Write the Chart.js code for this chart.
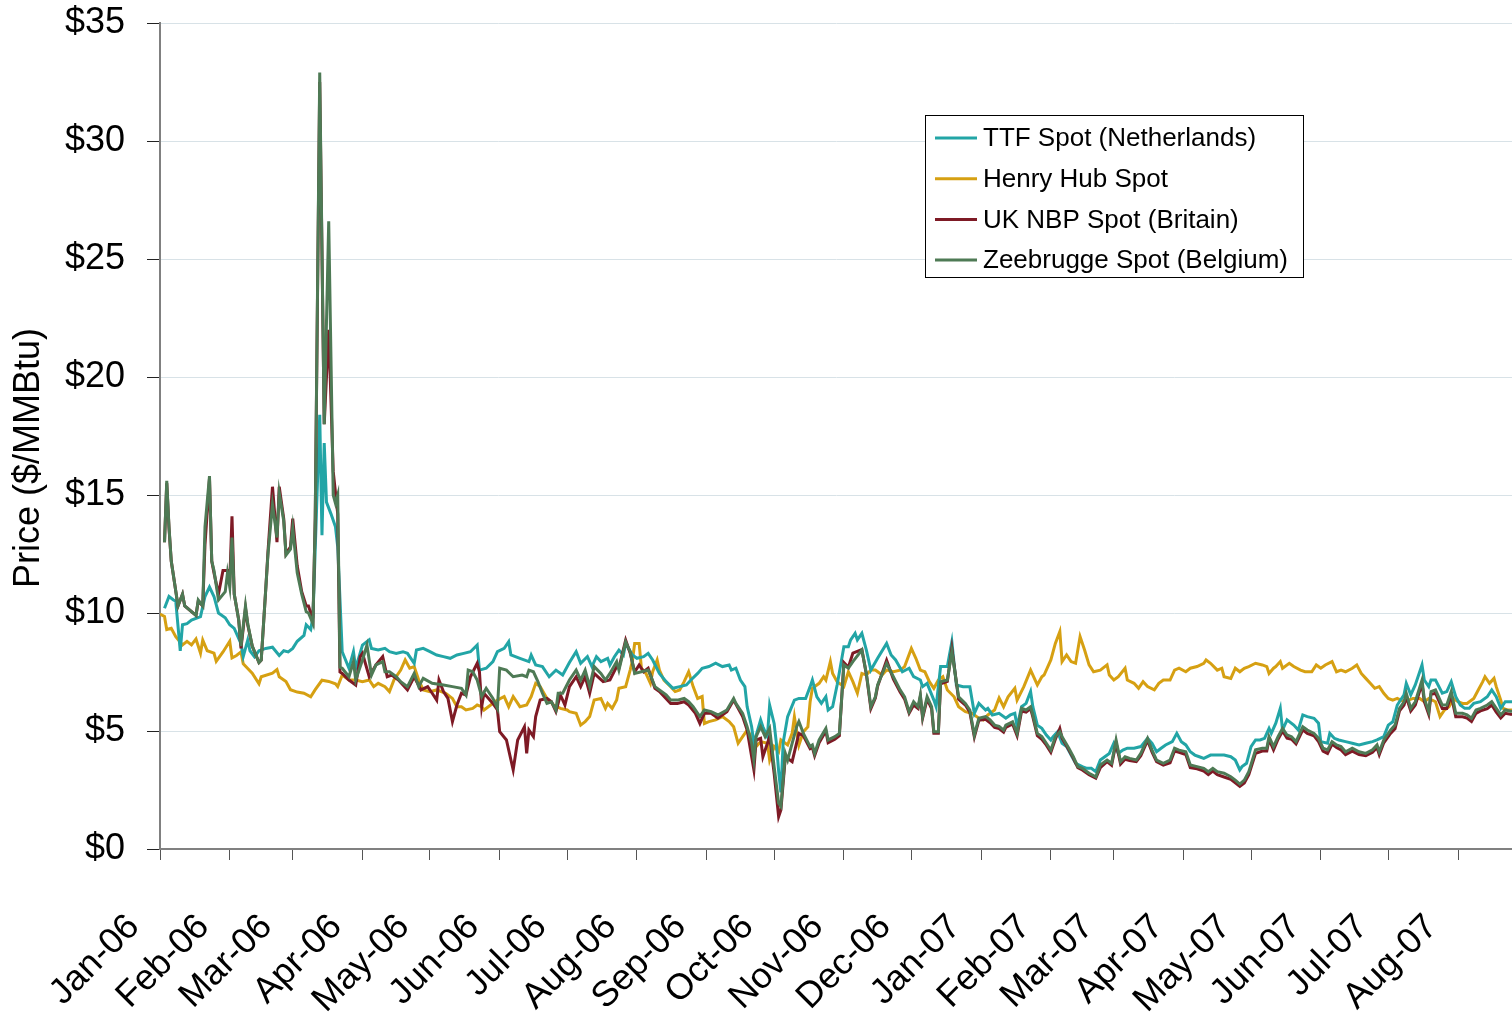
<!DOCTYPE html>
<html>
<head>
<meta charset="utf-8">
<script src="https://cdn.jsdelivr.net/npm/chart.js@4.4.1/dist/chart.umd.min.js"></script>
<style>
  html, body { margin: 0; padding: 0; background: #fff; }
  canvas { display: block; }
</style>
</head>
<body>
<canvas id="chart" width="1512" height="1012"></canvas>
<script>
const FONT = "'Liberation Sans', Arial, sans-serif";

// x values are days counted from 1 Jan 2006
const tickDays = [0, 31, 59, 90, 120, 151, 181, 212, 243, 273, 304, 334, 365, 396, 424, 455, 485, 516, 546, 577];
const tickLabels = ["Jan-06", "Feb-06", "Mar-06", "Apr-06", "May-06", "Jun-06", "Jul-06", "Aug-06", "Sep-06", "Oct-06",
  "Nov-06", "Dec-06", "Jan-07", "Feb-07", "Mar-07", "Apr-07", "May-07", "Jun-07", "Jul-07", "Aug-07"];

const seriesNames = ["TTF Spot (Netherlands)", "Henry Hub Spot", "UK NBP Spot (Britain)", "Zeebrugge Spot (Belgium)"];

// [day, $/MMBtu]
const ttfSpot = [
  [2,10.2],[4,10.7],[6,10.55],[7,10.5],[9,8.4],[10,9.5],[12,9.55],[14,9.7],[18,9.85],[20,10.7],[22,11.1],[24,10.7],
  [26,10.0],[29,9.8],[31,9.5],[33,9.35],[36,8.7],[37,8.15],[39,8.85],[40,8.4],[42,8.15],[44,8.4],[47,8.5],[50,8.55],
  [53,8.2],[55,8.4],[57,8.35],[59,8.5],[61,8.8],[64,9.05],[65,9.5],[67,9.3],[68,9.85],[71,18.4],[72,13.3],[73,17.2],
  [74,14.7],[76,14.2],[78,13.65],[79,12.8],[81,8.36],[84,7.66],[85,8.01],[86,8.36],[87,7.66],[90,8.64],[93,8.86],
  [94,8.5],[97,8.43],[100,8.5],[102,8.36],[105,8.29],[108,8.36],[110,8.29],[113,7.87],[114,8.43],[117,8.5],[120,8.36],
  [123,8.22],[126,8.15],[129,8.08],[132,8.22],[135,8.29],[138,8.36],[141,8.64],[142,7.58],[145,7.66],[148,7.94],
  [150,8.36],[153,8.5],[155,8.78],[156,8.22],[160,8.08],[164,7.94],[165,8.22],[167,7.8],[170,7.73],[173,7.3],
  [176,7.58],[179,7.37],[182,7.9],[185,8.36],[187,7.87],[190,8.15],[192,7.73],[194,8.15],[196,7.94],[199,8.08],
  [200,7.8],[202,8.15],[204,8.43],[206,8.22],[207,8.71],[210,8.22],[212,8.08],[215,8.15],[217,8.29],[219,8.01],
  [222,7.44],[225,7.09],[228,6.81],[231,6.88],[234,6.95],[236,7.16],[239,7.44],[241,7.66],[244,7.73],[247,7.87],
  [250,7.73],[253,7.8],[254,7.58],[256,7.66],[258,7.16],[260,6.88],[261,6.03],[263,5.18],[264,4.48],[267,5.47],
  [268,5.18],[270,4.76],[271,6.1],[273,5.32],[274,4.48],[275,3.3],[276,2.4],[277,4.5],[279,5.61],[282,6.31],
  [284,6.38],[287,6.38],[289,6.88],[290,7.16],[292,6.45],[294,6.17],[296,6.45],[297,5.89],[299,6.03],[301,6.95],
  [304,8.57],[306,8.57],[307,8.86],[309,9.14],[310,8.86],[312,9.14],[314,8.43],[316,7.58],[319,8.08],[323,8.71],
  [325,8.22],[327,8.01],[330,7.51],[333,7.66],[335,7.3],[338,7.16],[339,6.88],[341,7.02],[344,6.31],[345,6.03],
  [347,7.73],[350,7.73],[352,8.78],[354,6.95],[357,6.88],[360,6.88],[362,5.75],[364,6.17],[367,5.89],[368,5.96],
  [370,5.68],[373,5.75],[376,5.54],[378,5.68],[380,5.75],[381,5.18],[383,6.03],[385,6.17],[387,6.67],[388,6.03],
  [390,5.25],[392,5.11],[394,4.83],[396,4.62],[397,4.76],[399,4.97],[401,4.48],[403,4.34],[405,3.98],[407,3.63],
  [410,3.49],[412,3.42],[414,3.42],[416,3.28],[418,3.77],[420,3.91],[422,4.05],[424,4.48],[426,4.05],[428,4.19],
  [430,4.27],[433,4.27],[436,4.34],[439,4.69],[441,4.48],[443,4.12],[445,4.27],[447,4.41],[450,4.55],[452,4.9],
  [454,4.55],[456,4.41],[458,4.12],[460,3.98],[462,3.91],[464,3.84],[467,3.98],[470,3.98],[473,3.98],[476,3.91],
  [478,3.77],[480,3.35],[481,3.49],[483,3.63],[485,4.34],[487,4.62],[489,4.62],[491,4.69],[493,5.11],[494,4.9],
  [496,5.33],[498,5.96],[499,5.04],[501,5.47],[504,5.25],[506,5.04],[508,5.68],[510,5.61],[513,5.54],[515,5.33],
  [516,4.55],[519,4.48],[520,4.9],[522,4.69],[524,4.62],[527,4.55],[530,4.48],[533,4.41],[536,4.48],[539,4.55],
  [541,4.62],[544,4.76],[546,5.25],[548,5.39],[550,6.1],[553,6.53],[554,7.02],[556,6.53],[558,6.95],[561,7.8],
  [562,7.16],[564,6.88],[565,7.16],[567,7.16],[570,6.6],[572,6.67],[574,7.09],[576,6.45],[578,6.1],[580,5.96],
  [582,5.96],[584,6.17],[587,6.24],[590,6.45],[592,6.74],[594,6.45],[596,5.96],[598,6.24],[601,6.24]
];

const henryHubSpot = [
  [0,9.95],[2,9.85],[3,9.3],[5,9.35],[7,9.0],[10,8.65],[12,8.8],[14,8.65],[16,8.9],[18,8.3],[19,8.85],[21,8.4],
  [24,8.3],[25,7.95],[28,8.35],[31,8.8],[32,8.1],[34,8.2],[36,8.35],[37,7.85],[39,7.65],[41,7.45],[44,7.0],[45,7.3],
  [50,7.45],[52,7.6],[53,7.3],[56,7.1],[58,6.75],[61,6.65],[64,6.6],[67,6.45],[69,6.75],[72,7.15],[75,7.1],[78,7.0],
  [79,6.88],[81,7.37],[84,7.16],[87,7.16],[90,7.09],[93,7.16],[95,6.88],[97,7.02],[100,6.88],[102,6.67],[104,7.16],
  [107,7.58],[109,8.01],[111,7.66],[113,7.73],[115,7.16],[117,6.74],[120,6.67],[123,6.74],[127,6.6],[130,6.38],
  [132,6.03],[134,6.03],[136,5.89],[139,5.96],[141,6.1],[143,6.03],[144,5.89],[147,6.1],[150,6.31],[153,6.46],
  [155,6.03],[157,6.46],[160,6.03],[163,6.1],[165,6.46],[167,7.02],[169,6.88],[172,6.38],[175,6.1],[178,5.96],
  [181,5.89],[182,5.82],[185,5.75],[187,5.25],[189,5.4],[191,5.61],[193,6.31],[196,6.38],[198,5.96],[199,6.17],
  [201,5.96],[203,6.31],[204,6.81],[207,6.88],[209,7.58],[210,7.98],[211,8.71],[213,8.71],[214,7.66],[216,7.44],
  [218,7.02],[219,7.51],[221,8.01],[222,7.58],[224,7.16],[227,6.88],[229,6.67],[231,6.74],[233,7.09],[235,7.51],
  [237,6.88],[239,6.38],[241,6.46],[242,5.32],[244,5.4],[247,5.47],[250,5.61],[253,5.4],[255,5.18],[257,4.48],
  [259,4.76],[261,5.04],[263,4.76],[265,4.34],[267,4.55],[270,4.48],[271,3.77],[273,4.34],[275,4.12],[276,4.62],
  [279,4.41],[281,4.9],[282,5.6],[284,4.4],[286,4.97],[288,5.18],[289,6.24],[290,6.81],[293,7.02],[295,7.3],
  [296,7.16],[298,7.94],[299,7.44],[301,7.09],[304,6.88],[306,7.51],[308,7.09],[310,6.6],[312,7.44],[314,7.37],
  [316,7.58],[318,7.58],[321,7.37],[323,7.58],[326,7.51],[329,7.58],[331,7.73],[334,8.5],[336,8.08],[338,7.58],
  [340,7.51],[342,7.09],[344,6.81],[346,7.16],[348,7.3],[350,6.74],[353,6.45],[355,6.03],[358,5.82],[361,5.75],
  [364,5.54],[366,5.47],[368,5.68],[371,5.89],[373,6.4],[375,6.03],[377,6.45],[380,6.81],[381,6.31],[384,6.88],
  [387,7.58],[390,6.95],[392,7.3],[393,7.37],[396,8.01],[398,8.71],[400,9.21],[401,7.94],[403,8.22],[405,7.94],
  [407,7.87],[409,9.0],[411,8.43],[413,7.8],[415,7.51],[418,7.58],[421,7.8],[422,7.37],[424,7.16],[426,7.3],
  [429,7.66],[430,7.16],[433,7.02],[435,6.81],[437,7.09],[439,6.88],[442,6.74],[444,7.02],[446,7.16],[449,7.16],
  [451,7.58],[453,7.66],[456,7.51],[458,7.66],[461,7.73],[464,7.87],[465,8.01],[467,7.87],[470,7.58],[472,7.66],
  [473,7.3],[476,7.23],[478,7.66],[480,7.51],[482,7.66],[484,7.73],[487,7.87],[490,7.8],[492,7.73],[493,7.44],
  [495,7.66],[496,7.73],[498,7.94],[499,7.66],[502,7.87],[504,7.73],[507,7.58],[509,7.51],[512,7.51],[514,7.8],
  [516,7.66],[518,7.8],[521,7.94],[523,7.51],[525,7.58],[527,7.51],[530,7.66],[532,7.8],[534,7.44],[536,7.23],
  [538,7.02],[540,6.81],[542,6.88],[544,6.6],[546,6.38],[548,6.31],[550,6.38],[553,6.24],[555,6.31],[557,6.38],
  [560,6.38],[562,6.24],[564,6.38],[567,6.24],[569,5.61],[571,5.89],[573,6.03],[575,6.38],[577,6.24],[579,6.17],
  [581,6.17],[584,6.38],[586,6.74],[588,7.09],[589,7.3],[591,7.02],[593,7.23],[594,6.88],[596,6.31],[597,5.96],
  [599,5.89],[601,5.89]
];

const ukNbpSpot = [
  [2,13.0],[3,15.5],[4,13.6],[5,12.2],[8,10.3],[10,10.8],[11,10.3],[16,9.9],[17,10.5],[19,10.3],[20,12.9],[22,15.7],
  [23,12.2],[24,11.7],[26,10.8],[28,11.8],[30,11.8],[31,11.3],[32,14.1],[33,10.8],[35,9.7],[36,8.5],[38,10.2],
  [39,9.5],[41,8.6],[44,7.9],[45,8.0],[47,11.0],[48,12.6],[50,15.35],[52,13.0],[53,15.35],[55,14.0],[56,12.5],
  [58,12.8],[59,14.0],[61,12.0],[63,10.9],[65,10.3],[66,10.3],[68,9.7],[69,14.0],[71,32.5],[73,18.0],[75,22.0],
  [77,16.0],[79,14.2],[80,7.5],[81,7.44],[84,7.16],[87,6.95],[89,8.15],[90,8.29],[93,7.3],[96,7.8],[99,8.15],
  [101,7.3],[103,7.37],[106,7.16],[110,6.74],[113,7.3],[116,6.74],[119,6.88],[121,6.6],[123,6.31],[124,7.16],
  [126,6.67],[128,6.38],[130,5.4],[132,6.1],[134,6.6],[136,6.53],[138,7.3],[141,7.87],[142,7.51],[143,6.03],
  [144,6.6],[148,6.17],[150,5.89],[151,4.97],[154,4.62],[156,3.77],[157,3.35],[159,4.62],[162,5.18],[163,4.05],
  [164,5.04],[166,4.76],[167,5.61],[169,6.31],[172,6.38],[174,6.24],[176,5.82],[178,6.53],[180,6.1],[182,6.88],
  [185,7.3],[187,6.88],[189,7.3],[191,6.6],[193,7.44],[197,7.09],[200,7.16],[203,7.73],[204,7.66],[207,8.85],
  [209,8.3],[211,7.5],[213,7.8],[215,7.51],[217,7.66],[220,6.81],[222,6.67],[227,6.17],[230,6.17],[233,6.24],
  [235,6.1],[238,5.75],[240,5.32],[242,5.75],[245,5.75],[248,5.54],[252,5.82],[255,6.31],[259,5.61],[261,5.04],
  [264,3.35],[265,4.62],[267,4.69],[268,3.91],[271,4.76],[273,3.21],[275,1.37],[276,1.65],[278,3.91],[281,3.7],
  [284,4.9],[286,4.8],[289,4.25],[290,4.3],[291,3.95],[293,4.5],[296,5.0],[297,4.5],[300,4.65],[302,4.8],[304,7.9],
  [306,7.7],[308,8.3],[312,8.45],[314,7.4],[316,5.95],[318,6.4],[319,6.9],[323,8.0],[326,7.2],[329,6.65],[331,6.35],
  [333,5.75],[335,6.1],[337,5.95],[338,6.45],[339,5.55],[341,6.35],[343,5.95],[344,4.9],[346,4.9],[347,7.0],
  [350,7.1],[352,8.5],[355,6.35],[358,6.1],[360,5.8],[362,4.75],[364,5.45],[367,5.5],[369,5.35],[371,5.15],
  [373,5.1],[375,4.95],[376,5.15],[379,5.3],[381,4.8],[383,5.85],[385,5.8],[387,5.95],[388,5.6],[390,4.8],
  [392,4.65],[394,4.4],[396,4.1],[398,4.65],[400,5.1],[401,4.7],[404,4.2],[406,3.85],[408,3.45],[410,3.35],
  [413,3.15],[416,3.0],[418,3.45],[421,3.7],[423,3.55],[425,4.5],[427,3.6],[429,3.8],[431,3.75],[434,3.7],
  [436,3.95],[439,4.6],[441,4.1],[443,3.7],[446,3.55],[449,3.65],[451,4.15],[453,4.1],[456,4.0],[458,3.45],
  [461,3.4],[464,3.3],[466,3.15],[468,3.3],[470,3.15],[473,3.05],[476,2.95],[478,2.8],[480,2.65],[482,2.8],
  [484,3.15],[487,4.05],[490,4.15],[492,4.15],[493,4.65],[495,4.2],[497,4.65],[499,5.0],[501,4.7],[503,4.65],
  [505,4.45],[508,5.05],[510,4.9],[513,4.8],[515,4.55],[517,4.15],[519,4.05],[521,4.45],[523,4.3],[525,4.2],
  [527,4.0],[530,4.15],[533,4.0],[536,3.95],[539,4.1],[541,4.3],[542,4.0],[544,4.5],[547,4.9],[549,5.1],[551,5.85],
  [553,6.1],[554,6.45],[556,5.85],[558,6.1],[561,7.0],[562,6.25],[564,5.7],[565,6.55],[567,6.6],[570,5.95],
  [572,5.95],[574,6.5],[576,5.6],[579,5.6],[581,5.55],[583,5.4],[585,5.75],[587,5.85],[590,5.95],[592,6.1],
  [594,5.8],[596,5.55],[598,5.75],[601,5.7]
];

const zeebruggeSpot = [
  [2,13.0],[3,15.6],[4,13.65],[5,12.2],[8,10.3],[10,10.8],[11,10.3],[16,9.9],[17,10.55],[19,10.3],[20,13.65],
  [22,15.8],[23,12.2],[24,11.8],[26,10.55],[29,10.9],[30,11.7],[31,11.1],[32,13.2],[33,10.8],[35,9.7],[36,8.6],
  [38,10.3],[39,9.55],[41,8.6],[44,7.9],[45,8.0],[47,11.0],[48,12.5],[50,14.6],[52,13.2],[53,15.1],[55,13.9],
  [56,12.45],[58,12.7],[59,13.6],[61,11.7],[63,10.8],[65,10.05],[66,10.0],[68,9.55],[69,14.0],[71,32.9],[73,18.0],
  [75,26.6],[77,15.0],[78,14.65],[79,15.0],[80,7.7],[81,7.66],[84,7.3],[86,7.94],[87,7.16],[90,8.01],[92,8.64],
  [94,7.37],[96,7.8],[99,7.94],[100,7.51],[102,7.51],[105,7.3],[107,7.09],[110,6.88],[113,7.44],[115,6.88],
  [117,7.23],[121,7.02],[126,6.95],[130,6.88],[134,6.81],[136,6.53],[137,7.58],[139,7.51],[141,7.16],[143,6.46],
  [145,6.81],[148,6.38],[150,5.96],[151,7.66],[154,7.58],[157,7.3],[161,7.37],[163,7.3],[164,7.58],[166,7.51],
  [168,7.09],[170,6.6],[172,6.17],[174,6.24],[176,5.89],[177,6.6],[179,6.6],[182,7.16],[185,7.58],[187,7.16],
  [189,7.58],[191,6.88],[193,7.73],[196,7.44],[198,7.16],[200,7.44],[203,7.94],[204,7.58],[207,8.78],[209,8.36],
  [211,7.44],[214,7.51],[217,7.58],[218,7.37],[220,6.88],[222,6.74],[225,6.53],[227,6.31],[230,6.31],[233,6.38],
  [235,6.24],[237,6.03],[240,5.61],[242,5.89],[245,5.82],[248,5.68],[252,5.89],[255,6.38],[256,6.17],[259,5.75],
  [261,5.18],[263,4.48],[264,3.77],[265,4.76],[267,5.18],[269,4.76],[271,5.11],[273,3.49],[275,1.94],[276,1.8],
  [278,4.05],[279,3.77],[281,4.48],[283,5.18],[284,5.4],[286,4.9],[289,4.34],[290,4.41],[291,4.05],[293,4.62],
  [296,5.11],[297,4.62],[300,4.76],[302,4.9],[304,7.8],[306,7.66],[308,7.94],[312,8.43],[314,7.44],[316,6.03],
  [318,6.45],[319,6.95],[323,7.87],[326,7.3],[329,6.74],[331,6.45],[333,5.82],[335,6.24],[337,6.03],[338,6.53],
  [339,5.61],[341,6.45],[343,6.03],[344,4.97],[346,4.97],[347,7.09],[350,7.16],[352,8.36],[355,6.45],[358,6.17],
  [360,5.89],[362,4.83],[364,5.54],[367,5.61],[369,5.47],[371,5.25],[373,5.2],[375,5.04],[376,5.25],[379,5.39],
  [381,4.9],[383,5.96],[385,5.89],[387,6.03],[388,5.68],[390,4.9],[392,4.76],[394,4.48],[396,4.19],[398,4.76],
  [400,4.97],[401,4.76],[404,4.27],[406,3.91],[408,3.49],[410,3.42],[413,3.21],[416,3.06],[418,3.56],[421,3.77],
  [423,3.63],[425,4.62],[427,3.7],[429,3.91],[431,3.84],[434,3.77],[436,4.05],[439,4.69],[441,4.19],[443,3.77],
  [446,3.63],[449,3.77],[451,4.27],[453,4.19],[456,4.12],[458,3.56],[461,3.49],[464,3.42],[466,3.28],[468,3.42],
  [470,3.28],[473,3.21],[476,3.06],[478,2.92],[480,2.75],[482,2.92],[484,3.28],[487,4.2],[490,4.27],[492,4.27],
  [493,4.76],[495,4.34],[497,4.76],[499,5.11],[501,4.83],[503,4.76],[505,4.55],[508,5.18],[510,5.04],[513,4.9],
  [515,4.69],[517,4.27],[519,4.2],[521,4.55],[523,4.41],[525,4.34],[527,4.12],[530,4.27],[533,4.12],[536,4.05],
  [539,4.2],[541,4.41],[542,4.12],[544,4.62],[547,5.04],[549,5.25],[551,5.96],[553,6.24],[554,6.6],[556,5.96],
  [558,6.24],[561,7.16],[562,6.38],[564,5.82],[565,6.67],[567,6.74],[570,6.1],[572,6.1],[574,6.67],[576,5.75],
  [579,5.75],[581,5.68],[583,5.54],[585,5.89],[587,5.96],[590,6.1],[592,6.24],[594,5.96],[596,5.68],[598,5.89],
  [601,5.82]
];

const seriesColors = ["#22a5a6", "#d6a012", "#7e1a25", "#4e7a55"];

const toPoints = (rows) => rows.map(([x, y]) => ({ x, y }));

// Legend box + rotated axis title, drawn over the chart
const overlay = {
  id: "overlay",
  afterDraw(chart) {
    const ctx = chart.ctx;
    ctx.save();
    ctx.fillStyle = "#fff";
    ctx.fillRect(925, 115, 379, 163);
    ctx.strokeStyle = "#000";
    ctx.lineWidth = 1;
    ctx.strokeRect(925.5, 115.5, 378, 162);
    ctx.font = "26px " + FONT;
    ctx.textBaseline = "middle";
    ctx.textAlign = "left";
    chart.data.datasets.forEach((ds, i) => {
      const y = 138 + i * 40.7;
      ctx.strokeStyle = ds.borderColor;
      ctx.lineWidth = 3;
      ctx.beginPath();
      ctx.moveTo(935, y);
      ctx.lineTo(977, y);
      ctx.stroke();
      ctx.fillStyle = "#000";
      ctx.fillText(ds.label, 983, y + 1);
    });
    ctx.translate(29, 458);
    ctx.rotate(-Math.PI / 2);
    ctx.textAlign = "center";
    ctx.font = "36px " + FONT;
    ctx.fillText("Price ($/MMBtu)", 0, 0);
    ctx.restore();
  }
};

const allSeries = [ttfSpot, henryHubSpot, ukNbpSpot, zeebruggeSpot];
const drawOrder = [2, 3, 1, 0];

new Chart(document.getElementById("chart").getContext("2d"), {
  type: "line",
  data: {
    datasets: allSeries.map((rows, i) => ({
      label: seriesNames[i],
      data: toPoints(rows),
      borderColor: seriesColors[i],
      backgroundColor: seriesColors[i],
      borderWidth: 3,
      pointRadius: 0,
      tension: 0,
      order: drawOrder[i],
    })),
  },
  options: {
    responsive: false,
    animation: false,
    devicePixelRatio: 1,
    layout: { padding: { top: 23, right: 0, bottom: 0, left: 0 } },
    plugins: {
      legend: { display: false },
      tooltip: { enabled: false },
    },
    scales: {
      x: {
        type: "linear",
        min: 0,
        max: 601,
        afterBuildTicks: (scale) => { scale.ticks = tickDays.map(v => ({ value: v })); },
        afterFit: (scale) => {
          scale.height = 163;
          scale.paddingLeft = 0;
          scale.paddingRight = 0;
        },
        border: { color: "#808080", width: 2 },
        grid: { drawOnChartArea: false, drawTicks: true, tickLength: 11, tickColor: "#555" },
        ticks: {
          autoSkip: false,
          minRotation: 45,
          maxRotation: 45,
          padding: 46,
          labelOffset: -26,
          color: "#000",
          font: { family: FONT, size: 36 },
          callback: (value) => tickLabels[tickDays.indexOf(value)],
        },
      },
      y: {
        min: 0,
        max: 35,
        afterFit: (scale) => {
          scale.width = 160;
          scale.paddingTop = 0;
          scale.paddingBottom = 0;
        },
        border: { color: "#808080", width: 2 },
        grid: { color: "#d8e2e7", lineWidth: 1, tickLength: 13, tickColor: "#222" },
        ticks: {
          stepSize: 5,
          padding: 22,
          color: "#000",
          font: { family: FONT, size: 36 },
          callback: (value) => "$" + value,
        },
      },
    },
  },
  plugins: [overlay],
});
</script>
</body>
</html>
